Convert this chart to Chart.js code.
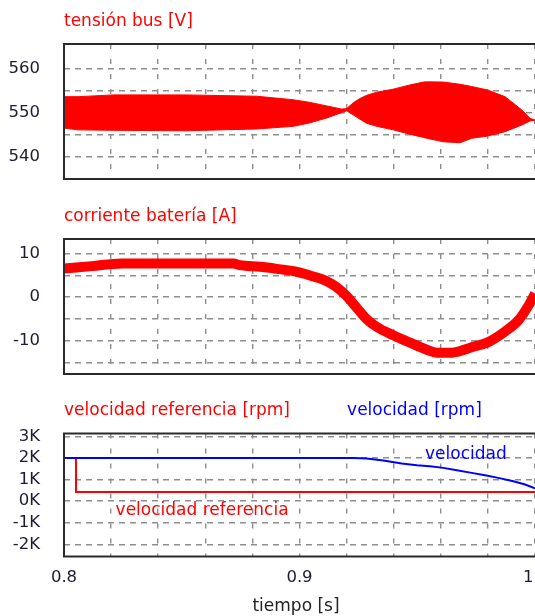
<!DOCTYPE html>
<html><head><meta charset="utf-8">
<script src="https://cdn.jsdelivr.net/npm/chart.js@4.4.0/dist/chart.umd.min.js"></script>
<style>
html,body{margin:0;padding:0;background:#fff;overflow:hidden;width:535px;height:616px;}
.box{position:absolute;left:0;width:545px;}
canvas{display:block;}
</style></head><body>
<div class="box" style="top:0px;height:192px"><canvas id="c1" width="545" height="192"></canvas></div>
<div class="box" style="top:192px;height:193px"><canvas id="c2" width="545" height="193"></canvas></div>
<div class="box" style="top:385px;height:231px"><canvas id="c3" width="545" height="231"></canvas></div>
<script>
// ---------- data ----------
const timeBus  = [0.800,0.806,0.821,0.852,0.8818,0.8974,0.9045,0.9116,0.9179,0.9200,0.9228,0.9257,0.9285,0.9328,0.9398,0.9469,0.9526,0.9540,0.9611,0.9682,0.9731,0.9799,0.9873,0.9944,0.9979,1.000];
const busUpper = [553.6,553.6,554.0,554.0,553.7,552.9,552.3,551.5,550.8,550.9,552.2,553.2,553.9,554.6,555.3,556.25,556.9,556.95,556.9,556.4,555.9,555.1,553.6,550.6,548.7,548.3];
const busLower = [546.5,546.1,546.0,545.9,546.3,546.9,547.7,548.8,550.0,550.4,549.5,548.5,547.6,546.9,546.1,545.1,544.4,544.2,543.4,543.2,544.2,544.7,545.7,547.2,548.1,548.3];

const timeBat    = [0.800,0.8118,0.8245,0.8719,0.8747,0.8832,0.8903,0.8974,0.9045,0.9116,0.9158,0.9200,0.9243,0.9285,0.9328,0.9398,0.9469,0.9540,0.9583,0.9639,0.9682,0.9731,0.9799,0.9873,0.9930,0.9972,1.000];
const batCurrent = [6.54,7.08,7.69,7.69,7.3,6.92,6.46,5.92,4.92,3.62,2.23,0.23,-2.46,-5.08,-6.85,-8.77,-10.46,-12.08,-12.77,-12.77,-12.38,-11.5,-10.4,-7.9,-5.3,-2.0,0.8];

const timeRef  = [0.800,0.8051,0.8051,1.000];
const speedRef = [2000,2000,420,420];

const timeVel  = [0.800,0.9229,0.9285,0.9356,0.9434,0.9498,0.9554,0.9611,0.9668,0.9731,0.9788,0.9844,0.9908,0.9958,1.000];
const speedVel = [2000,2000,1972,1880,1740,1663,1617,1540,1432,1309,1201,1078,924,770,590];

const xGridTicks   = [0.80,0.82,0.84,0.86,0.88,0.90,0.92,0.94,0.96,0.98,1.00];
const xLabelValues = [0.8,0.9,1.0];
const xLabelTexts  = ['0.8','0.9','1'];

const busTicks      = [540,545,550,555,560];
const busTickLabels = ['540','','550','','560'];
const batTicks      = [-15,-10,-5,0,5,10];
const batTickLabels = ['','-10','','0','','10'];
const velTicks      = [-2000,-1000,0,1000,2000,3000];
const velTickLabels = ['-2K','-1K','0K','1K','2K','3K'];

const noteTexts = ['velocidad','velocidad referencia'];
const noteX     = [0.9533,0.8219];
const noteY     = [2170,-415];

// ---------- helpers ----------
const FONT = '"DejaVu Sans", Verdana, sans-serif';
const pts = (xs, ys) => xs.map((x, i) => ({x: x, y: ys[i]}));

function decorPlugin(cfg) {
  return {
    id: 'decor',
    afterDraw(chart) {
      const ctx = chart.ctx, a = chart.chartArea, W = chart.width;
      ctx.save();
      // frame
      ctx.strokeStyle = '#2a2a2a';
      ctx.lineWidth = 2;
      ctx.beginPath();
      ctx.moveTo(W, a.top); ctx.lineTo(a.left, a.top);
      ctx.lineTo(a.left, a.bottom); ctx.lineTo(W, a.bottom);
      ctx.stroke();
      // titles
      ctx.font = '17px ' + FONT;
      ctx.textBaseline = 'middle';
      ctx.textAlign = 'left';
      cfg.titles.forEach(t => {
        ctx.fillStyle = t.color;
        const x = t.at === undefined ? a.left : chart.scales.x.getPixelForValue(t.at);
        ctx.fillText(t.text, x, a.top - 22.5);
      });
      // annotations inside plot
      if (cfg.notes) {
        cfg.notes.forEach((n, i) => {
          ctx.fillStyle = n.color;
          ctx.fillText(noteTexts[i], chart.scales.x.getPixelForValue(noteX[i]), chart.scales.y.getPixelForValue(noteY[i]));
        });
      }
      // x axis labels
      if (cfg.xlabels) {
        ctx.fillStyle = '#1c1c30';
        ctx.font = '16.5px ' + FONT;
        xLabelValues.forEach((v, i) => {
          const px = chart.scales.x.getPixelForValue(v);
          if (px >= a.right - 1) { ctx.textAlign = 'right'; ctx.fillText(xLabelTexts[i], px - 1.5, a.bottom + 21.5); }
          else { ctx.textAlign = 'center'; ctx.fillText(xLabelTexts[i], px, a.bottom + 21.5); }
        });
        ctx.textAlign = 'center';
        ctx.fillStyle = '#222';
        ctx.font = '17px ' + FONT;
        ctx.fillText('tiempo [s]', 296, a.bottom + 50.5);
      }
      ctx.restore();
    }
  };
}

function makeChart(id, datasets, yMin, yMax, yTicks, yLabels, pad, cfg) {
  return new Chart(document.getElementById(id), {
    type: 'line',
    data: { datasets: datasets },
    options: {
      responsive: false,
      animation: false,
      events: [],
      layout: { padding: pad },
      plugins: { legend: { display: false }, tooltip: { enabled: false }, title: { display: false } },
      elements: { point: { radius: 0 }, line: { tension: 0 } },
      scales: {
        x: {
          type: 'linear', min: 0.8, max: 1.0,
          afterBuildTicks: s => { s.ticks = xGridTicks.map(v => ({value: v})); },
          afterFit: s => { s.height = 0; s.paddingLeft = 0; s.paddingRight = 0; s.paddingTop = 0; s.paddingBottom = 0; },
          ticks: { display: false },
          grid: { color: '#8e8e8e', lineWidth: 1.4, drawTicks: false },
          border: { display: false, dash: [5, 10] }
        },
        y: {
          type: 'linear', min: yMin, max: yMax,
          afterBuildTicks: s => { s.ticks = yTicks.map(v => ({value: v})); },
          afterFit: s => { s.width = 64; s.paddingTop = 0; s.paddingBottom = 0; },
          ticks: {
            autoSkip: false, padding: 24, color: '#1c1c30',
            font: { family: FONT, size: 16.5 },
            callback: (v) => { const i = yTicks.indexOf(v); return i >= 0 ? yLabels[i] : ''; }
          },
          grid: { color: '#8e8e8e', lineWidth: 1.4, drawTicks: false },
          border: { display: false, dash: [6, 5] }
        }
      }
    },
    plugins: [decorPlugin(cfg)]
  });
}

// ---------- chart 1 : bus voltage ----------
makeChart('c1', [
  { data: pts(timeBus, busUpper), borderColor: '#ff0000', borderWidth: 1, backgroundColor: '#ff0000', fill: false },
  { data: pts(timeBus, busLower), borderColor: '#ff0000', borderWidth: 1, backgroundColor: '#ff0000', fill: '-1' }
], 535, 565.5, busTicks, busTickLabels, {top: 44, bottom: 13, left: 0, right: 10},
{ titles: [{ text: 'tensión bus [V]', color: '#ff0000' }] });

// ---------- chart 2 : battery current ----------
makeChart('c2', [
  { data: pts(timeBat, batCurrent), borderColor: '#ff0000', borderWidth: 10, borderCapStyle: 'butt', cubicInterpolationMode: 'monotone', fill: false }
], -17.65, 13.3, batTicks, batTickLabels, {top: 47, bottom: 11, left: 0, right: 10},
{ titles: [{ text: 'corriente batería [A]', color: '#ff0000' }] });

// ---------- chart 3 : speeds ----------
makeChart('c3', [
  { data: pts(timeVel, speedVel), borderColor: '#0000ff', borderWidth: 2, fill: false },
  { data: pts(timeRef, speedRef), borderColor: '#ff0000', borderWidth: 2, fill: false }
], -2560, 3130, velTicks, velTickLabels, {top: 48.5, bottom: 59.5, left: 0, right: 10},
{ titles: [{ text: 'velocidad referencia [rpm]', color: '#ff0000' }, { text: 'velocidad [rpm]', color: '#0000ff', at: 0.9202 }],
  notes: [{ color: '#0000ff' }, { color: '#ff0000' }], xlabels: true });
</script>
</body></html>
